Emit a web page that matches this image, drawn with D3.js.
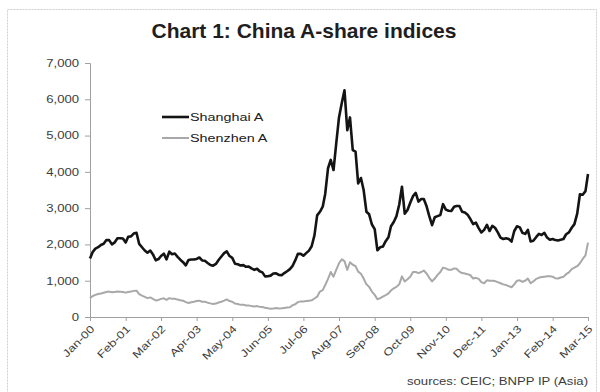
<!DOCTYPE html>
<html>
<head>
<meta charset="utf-8">
<script src="https://cdn.jsdelivr.net/npm/d3@7"></script>
<style>
  html, body { margin: 0; padding: 0; background: #fff; }
  svg { display: block; }
</style>
</head>
<body>
<svg id="chart" width="600" height="392"></svg>
<script>
// Monthly index levels, Jan-2000 .. Mar-2015
const startMonth = "Jan-00";

const shanghaiA = [
  // 2000
  1609, 1796, 1886, 1924, 1985, 2020, 2120, 2118, 2002, 2055, 2170, 2172,
  // 2001
  2164, 2053, 2213, 2221, 2300, 2320, 2013, 1922, 1832, 1770, 1831, 1725,
  // 2002
  1563, 1597, 1680, 1747, 1588, 1800, 1731, 1749, 1657, 1579, 1511, 1423,
  // 2003
  1572, 1585, 1584, 1600, 1640, 1558, 1548, 1489, 1433, 1414, 1464, 1569,
  // 2004
  1666, 1760, 1810, 1680, 1630, 1467, 1453, 1420, 1430, 1383, 1390, 1340,
  // 2005
  1300, 1330, 1260, 1230, 1120, 1125, 1140, 1200, 1205, 1160, 1150, 1210,
  // 2006
  1260, 1320, 1400, 1560, 1740, 1740, 1690, 1760, 1830, 1950, 2250, 2800,
  // 2007
  2900, 3040, 3400, 4100, 4330, 4050, 4780, 5500, 5900, 6250, 5150, 5500,
  // 2008
  4600, 4560, 3680, 3830, 3500, 2900, 2830, 2550, 2420, 1840, 1920, 1940,
  // 2009
  2090, 2200, 2500, 2620, 2780, 3100, 3590, 2850, 2950, 3150, 3330, 3420,
  // 2010
  3180, 3250, 3250, 3050, 2780, 2530, 2750, 2780, 2810, 3110, 2960, 2930,
  // 2011
  2920, 3040, 3060, 3060, 2900, 2880, 2820, 2700, 2560, 2600, 2450, 2330,
  // 2012
  2400, 2540, 2370, 2510, 2460, 2330, 2190, 2150, 2170, 2150, 2080, 2370,
  // 2013
  2500, 2470, 2320, 2290, 2400, 2080, 2100, 2200, 2290, 2260, 2320, 2190,
  // 2014
  2130, 2150, 2120, 2110, 2130, 2150, 2280, 2330, 2460, 2560, 2850, 3380,
  // 2015
  3370, 3470, 3940
];

const shenzhenA = [
  // 2000
  515, 580, 610, 635, 650, 670, 690, 700, 680, 690, 700, 698,
  // 2001
  690, 672, 690, 700, 720, 725, 630, 590, 555, 520, 540, 500,
  // 2002
  455, 470, 500, 515, 475, 520, 500, 505, 480, 460, 450, 410,
  // 2003
  385, 405, 420, 440, 450, 420, 420, 395, 375, 360, 370, 400,
  // 2004
  420, 450, 485, 440, 420, 370, 360, 335, 340, 315, 320, 300,
  // 2005
  290, 300, 285, 275, 255, 240, 230, 235, 245, 235, 240, 250,
  // 2006
  260, 270, 320, 350, 410, 430, 430, 440, 450, 460, 510, 560,
  // 2007
  700, 740, 880, 1050, 1240, 1110, 1300, 1480, 1590, 1540, 1300, 1510,
  // 2008
  1440, 1400, 1250, 1190, 1060, 900, 830, 700, 610, 490, 520, 560,
  // 2009
  600, 650, 730, 790, 830, 900, 1120, 980, 1040, 1110, 1240, 1240,
  // 2010
  1210, 1240, 1280, 1200, 1080, 980, 1060, 1160, 1240, 1360, 1340, 1300,
  // 2011
  1300, 1340, 1330, 1250, 1210, 1200, 1180, 1150, 1060, 1080, 1050, 960,
  // 2012
  930, 1010, 1000, 1000, 990, 960, 930, 900, 880, 850, 820, 900,
  // 2013
  1000, 1010, 970, 1000, 1060, 930, 980, 1050, 1080, 1100, 1110, 1120,
  // 2014
  1120, 1110, 1070, 1060, 1090, 1110, 1180, 1230, 1320, 1360, 1400, 1480,
  // 2015
  1600, 1700, 2050
];

const seriesNames = ["Shanghai A", "Shenzhen A"];
const seriesColors = ["#141414", "#a8a8a8"];

const xTickLabels = ["Jan-00", "Feb-01", "Mar-02", "Apr-03", "May-04", "Jun-05", "Jul-06",
  "Aug-07", "Sep-08", "Oct-09", "Nov-10", "Dec-11", "Jan-13", "Feb-14", "Mar-15"];
const yTicks = [0, 1000, 2000, 3000, 4000, 5000, 6000, 7000];

const titleText = "Chart 1: China A-share indices";
const sourceText = "sources: CEIC; BNPP IP (Asia)";

// ---- layout ----
const svg = d3.select("#chart");
const plot = { left: 90, right: 588, top: 63, bottom: 317 };
const smallFont = "'Liberation Sans', Arial, sans-serif";
const textGrey = "#3c3c3c";
const axisGrey = "#a0a0a0";
const widen = 1.25;   // horizontal stretch applied to the small labels

const parseMonth = d3.timeParse("%b-%y");
const t0 = parseMonth(startMonth);
const dates = shanghaiA.map((_, i) => d3.timeMonth.offset(t0, i));

const x = d3.scaleTime()
  .domain([dates[0], dates[dates.length - 1]])
  .range([plot.left, plot.right]);
const y = d3.scaleLinear()
  .domain([0, 7000])
  .range([plot.bottom, plot.top]);

// outer frame
svg.append("rect")
  .attr("x", 7.5).attr("y", 9.5)
  .attr("width", 589).attr("height", 392)
  .attr("fill", "none")
  .attr("stroke", "#cfcfcf")
  .attr("stroke-dasharray", "2,1");

// title
svg.append("text")
  .attr("x", 304).attr("y", 38)
  .attr("text-anchor", "middle")
  .attr("font-family", smallFont)
  .attr("font-weight", "bold")
  .attr("font-size", 21)
  .attr("fill", "#1e1e1e")
  .text(titleText);

// y axis
const yAxis = svg.append("g")
  .attr("transform", `translate(${plot.left},0)`)
  .call(d3.axisLeft(y).tickValues(yTicks).tickSize(5).tickPadding(0)
    .tickFormat(d3.format(",")));
yAxis.select(".domain").attr("stroke", axisGrey);
yAxis.selectAll(".tick line").attr("stroke", axisGrey);
yAxis.selectAll(".tick text")
  .attr("font-family", smallFont)
  .attr("font-size", 10.5)
  .attr("fill", textGrey)
  .attr("x", -11 / widen)
  .attr("transform", `scale(${widen},1)`);

// x axis
const xTickDates = xTickLabels.map(parseMonth);
const xAxis = svg.append("g")
  .attr("transform", `translate(0,${plot.bottom})`)
  .call(d3.axisBottom(x).tickValues(xTickDates).tickSize(4).tickSizeOuter(0)
    .tickFormat((d, i) => xTickLabels[i]));
xAxis.select(".domain").attr("stroke", axisGrey);
xAxis.selectAll(".tick line").attr("stroke", axisGrey);
xAxis.selectAll(".tick text")
  .attr("font-family", smallFont)
  .attr("font-size", 10.5)
  .attr("fill", textGrey)
  .attr("text-anchor", "end")
  .attr("x", 0).attr("y", 0).attr("dy", "0.35em")
  .attr("transform", `translate(2,10) rotate(-45) scale(${widen},1)`);

// lines (grey first so black sits on top)
const line = d3.line()
  .x((d, i) => x(dates[i]))
  .y(d => y(d));

svg.append("path")
  .datum(shenzhenA)
  .attr("d", line)
  .attr("fill", "none")
  .attr("stroke", seriesColors[1])
  .attr("stroke-width", 2)
  .attr("stroke-linejoin", "round");

svg.append("path")
  .datum(shanghaiA)
  .attr("d", line)
  .attr("fill", "none")
  .attr("stroke", seriesColors[0])
  .attr("stroke-width", 2.6)
  .attr("stroke-linejoin", "round");

// legend
const legend = svg.append("g").attr("transform", "translate(162,117)");
seriesNames.forEach((name, i) => {
  const g = legend.append("g").attr("transform", `translate(0,${i * 21})`);
  g.append("line")
    .attr("x1", 0).attr("x2", 27)
    .attr("y1", 0).attr("y2", 0)
    .attr("stroke", seriesColors[i])
    .attr("stroke-width", i === 0 ? 2.6 : 2);
  g.append("text")
    .attr("transform", `translate(28,0) scale(${widen},1)`)
    .attr("dy", "0.35em")
    .attr("font-family", smallFont)
    .attr("font-size", 11.5)
    .attr("fill", "#202020")
    .text(name);
});

// source note
svg.append("text")
  .attr("transform", `translate(588,385) scale(${widen},1)`)
  .attr("text-anchor", "end")
  .attr("font-family", smallFont)
  .attr("font-size", 10.5)
  .attr("fill", textGrey)
  .text(sourceText);
</script>
</body>
</html>
